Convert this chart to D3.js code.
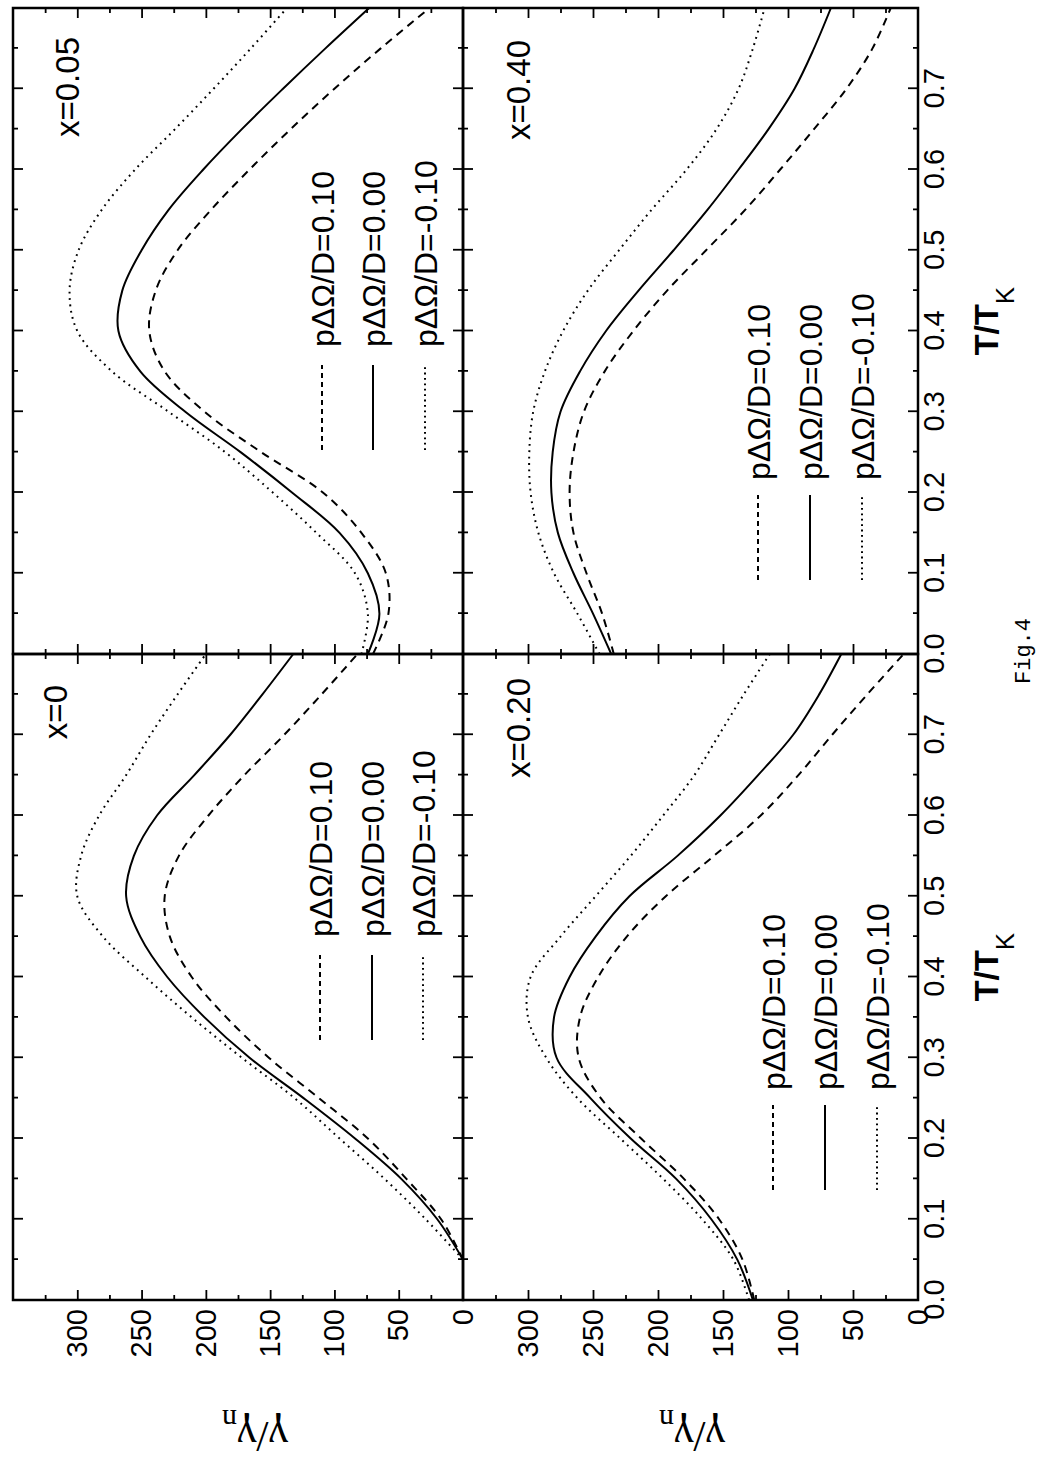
<!DOCTYPE html>
<html>
<head>
<meta charset="utf-8">
<script src="https://cdn.jsdelivr.net/npm/d3@7"></script>
<style>
  body { margin: 0; background: #fff; }
  text { font-family: "Liberation Sans", Arial, sans-serif; fill: #000; }
</style>
</head>
<body>
<svg id="fig" width="1043" height="1466"></svg>
<script>
// T/T_K sample points shared by every curve
var tK = [0, 0.05, 0.10, 0.15, 0.20, 0.25, 0.30, 0.35, 0.40, 0.45, 0.50, 0.55, 0.60, 0.65, 0.70, 0.75, 0.80];

// gamma/gamma_n, one array per panel and pDeltaOmega/D
var x0_p10  = [null, 0, 17, 44, 74, 112, 151, 184, 211, 228, 232, 221, 198, 170, 139, 110, 82];
var x0_p00  = [null, 0, 20, 48, 84, 124, 166, 201, 230, 251, 262, 256, 238, 209, 181, 156, 132];
var x0_m10  = [null, 0, 29, 61, 96, 131, 172, 211, 247, 280, 300, 297, 283, 262, 243, 222, 200];

var x05_p10 = [70, 58, 60, 79, 109, 157, 201, 232, 244, 239, 222, 196, 166, 134, 100, 64, 26];
var x05_p00 = [74, 65, 74, 96, 133, 173, 216, 251, 268, 265, 250, 229, 202, 172, 140, 107, 73];
var x05_m10 = [79, 74, 84, 114, 148, 185, 229, 273, 300, 306, 299, 281, 255, 224, 194, 165, 137];

var x20_p10 = [126, 135, 153, 180, 213, 244, 261, 260, 246, 224, 194, 157, 121, 92, 66, 39, 11];
var x20_p00 = [127, 139, 159, 186, 221, 252, 278, 280, 268, 248, 222, 185, 152, 123, 96, 76, 59];
var x20_m10 = [130, 142, 166, 196, 229, 262, 286, 300, 298, 275, 248, 221, 196, 172, 153, 134, 114];

var x40_p10 = [234, 243, 255, 265, 268, 265, 257, 241, 219, 193, 163, 133, 106, 80, 55, 35, 21];
var x40_p00 = [236, 250, 265, 277, 282, 281, 275, 260, 240, 215, 188, 162, 138, 115, 95, 80, 67];
var x40_m10 = [245, 262, 280, 292, 298, 299, 296, 287, 273, 254, 230, 205, 178, 155, 138, 127, 118];

var seriesNames = ['p\u0394\u03A9/D=0.10', 'p\u0394\u03A9/D=0.00', 'p\u0394\u03A9/D=-0.10'];
var tTickLabels = [0, 0.1, 0.2, 0.3, 0.4, 0.5, 0.6, 0.7];
var gTickLabels = [0, 50, 100, 150, 200, 250, 300];

// the figure is drawn upright and then turned a quarter turn, like the scan
var svg = d3.select('#fig');
var g = svg.append('g').attr('transform', 'translate(0,1466) rotate(-90)');

// panel geometry in the upright frame
var cols = [[166, 812], [812, 1458]];
var rows = [[13, 463], [463, 918]];
var styles = [
  { dash: '8,6', legDash: '5,4', width: 2 },
  { dash: null, legDash: null, width: 2 },
  { dash: '1.8,4.6', legDash: '1.8,3.6', width: 2 }
];

var panels = [
  { label: 'x=0',    col: 0, row: 0, data: [x0_p10, x0_p00, x0_m10],
    lab: [31, 54], leg: { line: [260, 345], text: 363, rows: [307, 359, 410] } },
  { label: 'x=0.05', col: 1, row: 0, data: [x05_p10, x05_p00, x05_m10],
    lab: [29, 66], leg: { line: [204, 289], text: 307, rows: [309, 360, 412] } },
  { label: 'x=0.20', col: 0, row: 1, data: [x20_p10, x20_p00, x20_m10],
    lab: [24, 67], leg: { line: [110, 195], text: 210, rows: [310, 362, 414] } },
  { label: 'x=0.40', col: 1, row: 1, data: [x40_p10, x40_p00, x40_m10],
    lab: [32, 67], leg: { line: [74, 159], text: 174, rows: [295, 347, 399] } }
];

var tMajor = d3.range(1, 8).map(function (i) { return i / 10; });
var tMinor = d3.range(1, 16, 2).map(function (i) { return i / 20; });
var gMajor = d3.range(50, 350, 50);
var gMinor = d3.range(25, 350, 50);

panels.forEach(function (p) {
  var u0 = cols[p.col][0], u1 = cols[p.col][1];
  var v0 = rows[p.row][0], v1 = rows[p.row][1];
  var x = d3.scaleLinear().domain([0, 0.8]).range([u0, u1]);
  var y = d3.scaleLinear().domain([0, 350]).range([v1, v0]);
  var pg = g.append('g');

  // inward ticks on all four sides
  function ticks(axis, vals, len, tr) {
    pg.append('g').attr('transform', tr)
      .call(axis.tickValues(vals).tickSize(-len).tickFormat(''))
      .call(function (s) {
        s.select('.domain').remove();
        s.selectAll('line').attr('stroke', '#000').attr('stroke-width', 1.8);
      });
  }
  ticks(d3.axisBottom(x), tMajor, 10, 'translate(0,' + v1 + ')');
  ticks(d3.axisBottom(x), tMinor, 5, 'translate(0,' + v1 + ')');
  ticks(d3.axisTop(x), tMajor, 10, 'translate(0,' + v0 + ')');
  ticks(d3.axisTop(x), tMinor, 5, 'translate(0,' + v0 + ')');
  ticks(d3.axisLeft(y), gMajor, 10, 'translate(' + u0 + ',0)');
  ticks(d3.axisLeft(y), gMinor, 5, 'translate(' + u0 + ',0)');
  ticks(d3.axisRight(y), gMajor, 10, 'translate(' + u1 + ',0)');
  ticks(d3.axisRight(y), gMinor, 5, 'translate(' + u1 + ',0)');

  // frame
  pg.append('rect')
    .attr('x', u0).attr('y', v0).attr('width', u1 - u0).attr('height', v1 - v0)
    .attr('fill', 'none').attr('stroke', '#000').attr('stroke-width', 2.5);

  // curves
  var line = d3.line()
    .defined(function (d) { return d[1] != null; })
    .x(function (d) { return x(d[0]); })
    .y(function (d) { return y(d[1]); })
    .curve(d3.curveCatmullRom.alpha(0.5));

  p.data.forEach(function (vals, i) {
    var pts = tK.map(function (t, k) { return [t, vals[k]]; });
    pg.append('path')
      .attr('d', line(pts))
      .attr('fill', 'none')
      .attr('stroke', '#000')
      .attr('stroke-width', styles[i].width)
      .attr('stroke-dasharray', styles[i].dash);

    // legend entry
    var lv = v0 + p.leg.rows[i];
    pg.append('line')
      .attr('x1', u0 + p.leg.line[0]).attr('x2', u0 + p.leg.line[1])
      .attr('y1', lv).attr('y2', lv)
      .attr('stroke', '#000')
      .attr('stroke-width', styles[i].width)
      .attr('stroke-dasharray', styles[i].legDash);
    pg.append('text')
      .attr('x', u0 + p.leg.text).attr('y', lv + 12)
      .style('font-size', '32px')
      .text(seriesNames[i]);
  });

  // panel label
  pg.append('text')
    .attr('x', u1 - p.lab[0]).attr('y', v0 + p.lab[1])
    .attr('text-anchor', 'end')
    .style('font-size', '33px')
    .text(p.label);

  // gamma tick labels on the left of each row
  if (p.col === 0) {
    pg.append('g').attr('transform', 'translate(' + u0 + ',0)')
      .call(d3.axisLeft(y).tickValues(gTickLabels).tickSize(0).tickPadding(9))
      .call(function (s) {
        s.select('.domain').remove();
        s.selectAll('text').style('font-size', '29px')
          .style('font-family', '"Liberation Sans", Arial, sans-serif');
      });
    var gl = pg.append('text')
      .attr('transform', 'translate(44,' + (p.row === 0 ? 255 : 692) + ') rotate(-90)')
      .attr('text-anchor', 'middle')
      .style('font-family', '"Liberation Serif", "DejaVu Serif", serif')
      .style('font-size', '44px');
    gl.append('tspan').text('\u03B3/\u03B3');
    gl.append('tspan').attr('dy', 12).style('font-size', '30px').text('n');
  }

  // T/T_K tick labels under the bottom row
  if (p.row === 1) {
    pg.append('g').attr('transform', 'translate(0,' + v1 + ')')
      .call(d3.axisBottom(x).tickValues(tTickLabels).tickSize(0).tickPadding(5)
        .tickFormat(d3.format('.1f')))
      .call(function (s) {
        s.select('.domain').remove();
        s.selectAll('text').style('font-size', '29px')
          .style('font-family', '"Liberation Sans", Arial, sans-serif');
      });
    var tl = pg.append('text')
      .attr('x', (u0 + u1) / 2 + 10).attr('y', 998)
      .attr('text-anchor', 'middle')
      .style('font-size', '34px').style('font-weight', 'bold');
    tl.append('tspan').text('T/T');
    tl.append('tspan').attr('dy', 16).style('font-size', '26px')
      .style('font-weight', 'normal').text('K');
  }
});

// caption
g.append('text')
  .attr('x', 815).attr('y', 1030)
  .attr('text-anchor', 'middle')
  .style('font-family', '"Liberation Mono", "DejaVu Sans Mono", monospace')
  .style('font-size', '22px')
  .text('Fig.4');
</script>
</body>
</html>
